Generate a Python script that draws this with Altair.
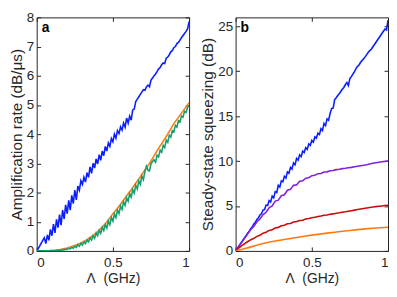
import altair as alt
import pandas as pd

# ---------------- data ----------------
X_FINE = [i / 100 for i in range(101)]      # 0.00 .. 1.00 step 0.01
X_MID = [i / 50 for i in range(51)]         # 0.00 .. 1.00 step 0.02
X_025 = [i / 40 for i in range(41)]         # 0.000 .. 1.000 step 0.025
X_COARSE = [i / 20 for i in range(21)]      # 0.00 .. 1.00 step 0.05

# panel a: amplification rate (dB/us)
amp_blue = [0.00, 0.08, 0.17, 0.27, 0.36, 0.45, 0.25, 0.55, 0.36, 0.74,
            0.52, 0.92, 0.62, 1.08, 0.80, 1.24, 0.88, 1.40, 1.10, 1.58,
            1.28, 1.73, 1.40, 1.90, 1.62, 2.08, 1.75, 2.22, 2.08, 2.40,
            2.28, 2.52, 2.36, 2.68, 2.52, 2.88, 2.66, 3.00, 2.84, 3.15,
            2.98, 3.30, 3.10, 3.42, 3.26, 3.58, 3.42, 3.70, 3.58, 3.85,
            3.74, 4.00, 3.86, 4.12, 4.02, 4.25, 4.14, 4.38, 4.24, 4.55,
            4.38, 4.62, 4.48, 4.83, 4.86, 5.12, 5.20, 5.28, 5.36, 5.44,
            5.52, 5.50, 5.62, 5.68, 5.62, 5.85, 5.92, 6.00, 6.06, 6.14,
            6.24, 6.28, 6.38, 6.44, 6.42, 6.60, 6.64, 6.72, 6.82, 6.86,
            6.96, 7.00, 7.10, 7.14, 7.22, 7.30, 7.38, 7.45, 7.52, 7.60,
            7.85]
amp_orange = [0.00, 0.00, 0.00, 0.00, 0.01, 0.02, 0.04, 0.07, 0.10, 0.14,
              0.19, 0.24, 0.30, 0.37, 0.46, 0.55, 0.66, 0.79, 0.93, 1.09,
              1.27, 1.43, 1.60, 1.78, 1.96, 2.13, 2.32, 2.50, 2.70, 2.88,
              3.08, 3.30, 3.52, 3.72, 3.92, 4.14, 4.36, 4.54, 4.72, 4.90,
              5.08]
amp_green = [0.00, 0.00, 0.00, 0.00, 0.00, 0.00, 0.00, 0.00, 0.00, 0.01,
             0.01, 0.01, 0.01, 0.02, 0.02, 0.03, 0.02, 0.04, 0.03, 0.06,
             0.05, 0.09, 0.07, 0.12, 0.09, 0.16, 0.12, 0.21, 0.16, 0.26,
             0.20, 0.31, 0.25, 0.37, 0.31, 0.44, 0.37, 0.52, 0.43, 0.61,
             0.52, 0.70, 0.60, 0.80, 0.70, 0.90, 0.78, 1.02, 0.90, 1.14,
             1.02, 1.26, 1.14, 1.40, 1.28, 1.54, 1.42, 1.68, 1.56, 1.82,
             1.70, 1.96, 1.84, 2.10, 1.98, 2.25, 2.12, 2.40, 2.28, 2.56,
             2.44, 2.72, 2.90, 2.76, 2.74, 2.98, 3.06, 3.12, 3.04, 3.28,
             3.22, 3.45, 3.38, 3.62, 3.54, 3.80, 3.72, 3.96, 3.90, 4.12,
             4.08, 4.30, 4.24, 4.46, 4.42, 4.62, 4.58, 4.78, 4.74, 4.92,
             4.98]

# panel b: steady-state squeezing (dB)
sq_blue = [0.00, 0.25, 0.50, 0.75, 1.00, 1.25, 1.50, 1.72, 2.00, 2.20,
           2.50, 2.70, 3.00, 3.20, 3.50, 3.70, 4.00, 4.15, 4.55, 4.60,
           5.10, 5.05, 5.60, 5.45, 6.10, 5.90, 6.60, 6.50, 7.30, 7.10,
           7.80, 7.70, 8.30, 8.10, 8.80, 8.65, 9.30, 9.10, 9.80, 9.60,
           10.30, 10.10, 10.70, 10.50, 11.10, 10.95, 11.50, 11.30, 11.90, 11.75,
           12.30, 12.10, 12.70, 12.55, 13.10, 12.95, 13.60, 13.40, 14.20, 13.95,
           14.70, 14.55, 15.30, 15.85, 15.90, 16.85, 17.05, 17.30, 17.50, 17.75,
           18.00, 18.20, 18.50, 18.75, 18.40, 19.20, 19.40, 19.70, 19.95, 20.30,
           20.55, 20.70, 21.00, 21.20, 21.40, 21.60, 21.85, 22.10, 22.30, 22.45,
           22.70, 22.95, 23.20, 23.45, 23.70, 23.95, 24.20, 24.45, 24.70, 24.60,
           25.70]
sq_purple = [0.00, 0.50, 0.95, 1.45, 1.90, 2.40, 2.75, 3.25, 3.55, 4.05,
             4.30, 4.80, 5.00, 5.55, 5.65, 6.15, 6.25, 6.75, 6.85, 7.30,
             7.35, 7.75, 7.80, 8.10, 8.15, 8.38, 8.42, 8.60, 8.62, 8.78,
             8.80, 8.92, 8.95, 9.05, 9.10, 9.16, 9.20, 9.25, 9.30, 9.36,
             9.42, 9.48, 9.53, 9.60, 9.68, 9.76, 9.82, 9.88, 9.93, 9.97,
             10.02]
sq_red = [0.00, 0.30, 0.58, 0.82, 1.05, 1.25, 1.40, 1.62, 1.75, 1.98,
          2.08, 2.28, 2.35, 2.55, 2.62, 2.80, 2.85, 3.02, 3.06, 3.22,
          3.28, 3.38, 3.42, 3.56, 3.60, 3.70, 3.74, 3.84, 3.88, 3.97,
          4.00, 4.08, 4.12, 4.20, 4.24, 4.31, 4.36, 4.42, 4.48, 4.54,
          4.60, 4.66, 4.72, 4.78, 4.84, 4.88, 4.93, 4.97, 5.01, 5.05,
          5.08]
sq_orange = [0.00, 0.22, 0.45, 0.68, 0.90, 1.07, 1.22, 1.36, 1.50, 1.63,
             1.76, 1.87, 1.98, 2.08, 2.18, 2.28, 2.37, 2.45, 2.52, 2.58,
             2.64]

X_TICKS = [0, 0.5, 1]
Y_TICKS_A = [0, 1, 2, 3, 4, 5, 6, 7, 8]
Y_TICKS_B = [0, 5, 10, 15, 20, 25]

BLUE = "#0a1eff"
ORANGE = "#ff7a14"
GREEN = "#13a06c"
PURPLE = "#8020e0"
RED = "#cc0a0a"
INK = "#262626"
FONT = "Liberation Sans"

W, H = 154, 236


def panel(series, ydom, yticks, ytitle, letter):
    xax = alt.Axis(values=X_TICKS, format="~g", title="Λ\u00a0 (GHz)", offset=-4,
                   tickSize=4, domain=False, grid=False, labelPadding=5, titlePadding=2,
                   titleFontSize=14)
    yax = alt.Axis(values=yticks, format="~g", title=ytitle, offset=-4,
                   tickSize=4, domain=False, grid=False, labelPadding=3, titlePadding=2,
                   titleFontSize=15.5)
    xs = alt.Scale(domain=[0, 1], nice=False)
    ys = alt.Scale(domain=ydom, nice=False)
    lines = []
    for xv, yv, col in series:
        df = pd.DataFrame({"x": xv, "y": yv})
        lines.append(
            alt.Chart(df).mark_line(color=col, strokeWidth=1.6, clip=True).encode(
                x=alt.X("x:Q", scale=xs, axis=xax),
                y=alt.Y("y:Q", scale=ys, axis=yax),
            )
        )
    lab = alt.Chart(pd.DataFrame({"t": [letter]})).mark_text(
        fontWeight="bold", fontSize=14, font=FONT, align="left", baseline="top", color="black"
    ).encode(x=alt.value(5), y=alt.value(4), text="t:N")
    inner = alt.layer(*lines, lab)
    df0 = pd.DataFrame({"x": series[0][0], "y": series[0][1]})
    frame = alt.Chart(df0).mark_line(opacity=0).encode(
        x=alt.X("x:Q", scale=xs, axis=alt.Axis(orient="top", values=X_TICKS, labels=False, title=None,
                                               offset=-4, tickSize=4, domain=False, grid=False)),
        y=alt.Y("y:Q", scale=ys, axis=alt.Axis(orient="right", values=yticks, labels=False, title=None,
                                               offset=-4, tickSize=4, domain=False, grid=False)),
    )
    return alt.layer(inner, frame).resolve_axis(x="independent", y="independent").properties(width=W, height=H)


pa = panel([(X_FINE, amp_blue, BLUE), (X_025, amp_orange, ORANGE), (X_FINE, amp_green, GREEN)],
           [0, 8], Y_TICKS_A, "Amplification rate (dB/μs)", "a")
pb = panel([(X_FINE, sq_blue, BLUE), (X_MID, sq_purple, PURPLE), (X_MID, sq_red, RED),
            (X_COARSE, sq_orange, ORANGE)],
           [0, 26], Y_TICKS_B, "Steady-state squeezing (dB)", "b")

chart = alt.hconcat(pa, pb, spacing=10).properties(padding=0).configure_view(
    stroke=INK, strokeWidth=1
).configure_axis(
    labelFont=FONT, titleFont=FONT, labelFontSize=13.5,
    labelColor=INK, titleColor=INK, tickColor=INK, titleFontWeight="normal",
)

chart.save("out.html", embed_options={"renderer": "svg", "actions": False})
